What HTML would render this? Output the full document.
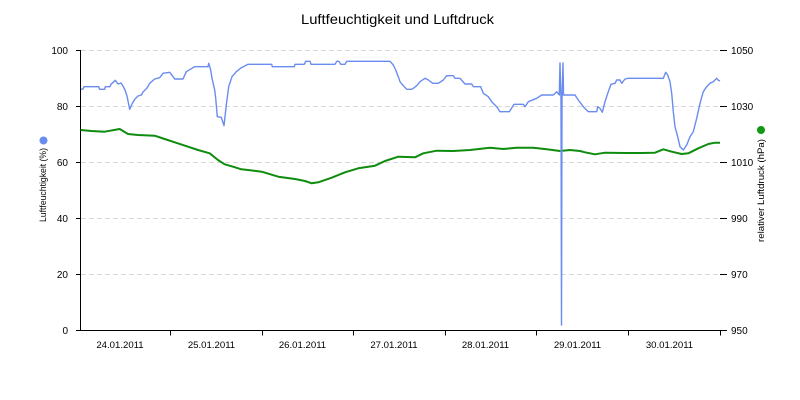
<!DOCTYPE html>
<html>
<head>
<meta charset="utf-8">
<style>
  html,body{margin:0;padding:0;background:#fff;}
  svg{display:block;}
  text{font-family:"Liberation Sans","DejaVu Sans",sans-serif;fill:#000;}
</style>
</head>
<body>
<svg width="800" height="400" viewBox="0 0 800 400" xmlns="http://www.w3.org/2000/svg">
  <rect width="800" height="400" fill="#fff"/>
  <!-- title -->
  <text x="397.5" y="24" font-size="14" text-anchor="middle" textLength="193" lengthAdjust="spacingAndGlyphs">Luftfeuchtigkeit und Luftdruck</text>

  <!-- grid -->
  <g stroke="#d8d8d8" stroke-width="1" stroke-dasharray="5,3">
    <line x1="81" y1="50.5" x2="720" y2="50.5"/>
    <line x1="81" y1="106.5" x2="720" y2="106.5"/>
    <line x1="81" y1="162.5" x2="720" y2="162.5"/>
    <line x1="81" y1="218.5" x2="720" y2="218.5"/>
    <line x1="81" y1="274.5" x2="720" y2="274.5"/>
  </g>

  <!-- axes -->
  <g stroke="#000" stroke-width="1">
    <line x1="80.5" y1="50" x2="80.5" y2="331"/>
    <line x1="76" y1="330.5" x2="721" y2="330.5"/>
    <!-- left ticks -->
    <line x1="76" y1="50.5" x2="80" y2="50.5"/>
    <line x1="76" y1="106.5" x2="80" y2="106.5"/>
    <line x1="76" y1="162.5" x2="80" y2="162.5"/>
    <line x1="76" y1="218.5" x2="80" y2="218.5"/>
    <line x1="76" y1="274.5" x2="80" y2="274.5"/>
    <!-- right ticks -->
    <line x1="720" y1="50.5" x2="727" y2="50.5"/>
    <line x1="720" y1="106.5" x2="727" y2="106.5"/>
    <line x1="720" y1="162.5" x2="727" y2="162.5"/>
    <line x1="720" y1="218.5" x2="727" y2="218.5"/>
    <line x1="720" y1="274.5" x2="727" y2="274.5"/>
    <line x1="720" y1="330.5" x2="727" y2="330.5"/>
    <!-- x ticks -->
    <line x1="170.5" y1="330" x2="170.5" y2="335.5"/>
    <line x1="262.5" y1="330" x2="262.5" y2="335.5"/>
    <line x1="353.5" y1="330" x2="353.5" y2="335.5"/>
    <line x1="445.5" y1="330" x2="445.5" y2="335.5"/>
    <line x1="536.5" y1="330" x2="536.5" y2="335.5"/>
    <line x1="628.5" y1="330" x2="628.5" y2="335.5"/>
    <line x1="720.5" y1="330" x2="720.5" y2="335.5"/>
  </g>

  <!-- left labels -->
  <g font-size="10" text-anchor="end">
    <text x="68" y="54">100</text>
    <text x="68" y="110">80</text>
    <text x="68" y="166">60</text>
    <text x="68" y="222">40</text>
    <text x="68" y="278">20</text>
    <text x="68" y="334">0</text>
  </g>
  <!-- right labels -->
  <g font-size="10" text-anchor="start">
    <text x="731" y="54">1050</text>
    <text x="731" y="110">1030</text>
    <text x="731" y="166">1010</text>
    <text x="731" y="222">990</text>
    <text x="731" y="278">970</text>
    <text x="731" y="334">950</text>
  </g>
  <!-- x labels -->
  <g font-size="9.6" text-anchor="middle">
    <text x="120" y="348">24.01.2011</text>
    <text x="211.5" y="348">25.01.2011</text>
    <text x="302.5" y="348">26.01.2011</text>
    <text x="394" y="348">27.01.2011</text>
    <text x="485.5" y="348">28.01.2011</text>
    <text x="577.5" y="348">29.01.2011</text>
    <text x="669.5" y="348">30.01.2011</text>
  </g>

  <!-- axis titles -->
  <circle cx="43.5" cy="140.5" r="4" fill="#6a8cf0"/>
  <text transform="translate(46,222) rotate(-90)" font-size="9" textLength="74" lengthAdjust="spacingAndGlyphs">Luftfeuchtigkeit (%)</text>
  <circle cx="761" cy="130" r="4" fill="#119911"/>
  <text transform="translate(764,242) rotate(-90)" font-size="9" textLength="103" lengthAdjust="spacingAndGlyphs">relativer Luftdruck (hPa)</text>

  <!-- green series -->
  <polyline fill="none" stroke="#0e8c0e" stroke-width="2" stroke-linejoin="round" points="80.7,130 91.3,131 104.7,131.7 119.7,129 128,134 138,135 154.7,135.7 164.7,139 174.7,142.3 188,146.7 198,150 209.7,153.3 218,160 224.7,164.3 233,166.7 241.3,169.3 248,170 261.7,171.7 278.3,176.7 295,179 305,181 311.7,183.3 318.3,182.3 331.7,177.7 345,172.3 358.3,168.3 375,165.7 385,161 398.3,156.7 415,157.3 423.3,153.3 436.7,150.7 453.3,151 470,150 490,147.7 503.3,149 516.7,147.7 533.3,147.7 546.7,149.3 560,151 570,150 580,151 585,152.3 595,154.3 605,152.7 625,153 641.7,153 655,152.7 663.3,149.3 671.7,151.7 681.7,154 688.3,153.3 698.3,148.3 708.3,144 715,142.7 720,142.7"/>

  <!-- blue series -->
  <polyline fill="none" stroke="#6a8cf0" stroke-width="1.4" stroke-linejoin="round" points="81,89.3 83,89 84,86.7 98.7,86.7 99.5,89.3 104.7,89.3 105.3,86.7 110,86.7 111,84.3 115.3,80.3 118,84 121,83 123,86 125,90 127,96 129.7,109.3 132,104 135,99 138,96 141.3,95 143,92 147,88 149.7,83.3 154.7,79 159.7,77.7 163,73.3 169.7,72.3 173,76.7 174.7,79 183,79 186.3,71.7 193,67.7 194.7,66.7 208,66.7 208.7,63.3 210.7,70 212,78.3 214.7,90 215.7,98.3 217.3,116.7 221.3,117.3 224,125.7 226.3,105 228.7,86.7 232,76.7 236.3,71.7 241.3,67.7 248,64.3 271.7,64.3 272.3,66.7 294.3,66.7 295,64.3 304.3,64.3 305.7,61.3 310,61.3 311,64.3 335,64.3 336.7,61.3 339,61.3 340.7,64.3 345,64.3 346.7,61.3 390,61.3 393.3,65 395.7,70 398.3,76.7 400,81.7 403.3,85.7 406.7,89.3 411.7,89.3 413.3,88.3 416.7,85.7 420,81.7 425,78.3 428.3,80 432.7,83.3 438.3,83.3 443.3,80 446.7,75.7 453.3,75.7 455,78.3 460,78.3 465,84 471.7,84 473.3,86.7 480.7,86.7 483.3,93.3 488.3,96.7 491.7,101.7 496.7,106.7 500,111.7 509.3,111.7 514,104.3 523.3,104.3 525,106.7 528.3,101.7 536.7,98.3 541.7,95 553.3,95 556.7,91.7 559.3,95 560,63 561,100 561.5,325 562,100 563,63 563.5,95 575,95 578.3,100 583.3,106.7 588.3,111.7 596.7,111.7 597.7,106.7 600,108.3 602.3,112.3 605,101.7 608.3,91.7 611,84.3 615,83.3 616.7,80 620,80 621.7,83.3 625,79 628.3,78.3 663.3,78.3 665.7,72.3 667.7,75 670,81.7 671.7,93.3 673.3,111.7 675,126.7 677.7,136.7 680,146.7 683.3,150 686.7,145 690,136.7 693.3,131.7 696.7,118.3 700,103.3 703.3,91.7 706.7,86.7 710,83.3 713.3,81.7 716.7,78.3 718,80 720,81"/>
</svg>
</body>
</html>
